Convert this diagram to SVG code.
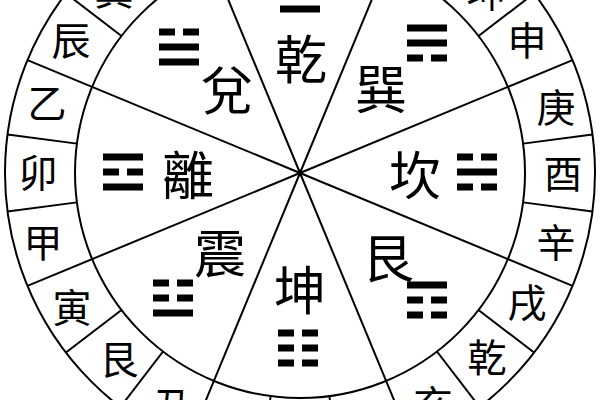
<svg xmlns="http://www.w3.org/2000/svg" width="600" height="400" viewBox="0 0 600 400">
<style>
.ln{stroke:#000;stroke-width:2;fill:none}
.big{font-family:"Noto Sans CJK TC","Noto Sans CJK SC",sans-serif;font-size:52px;text-anchor:middle;dominant-baseline:central;fill:#000}
.sm{font-family:"Noto Sans CJK TC","Noto Sans CJK SC",sans-serif;font-size:39px;text-anchor:middle;dominant-baseline:central;fill:#000}
.bar{fill:#000}
</style>
<defs>
<g id="yang"><rect class="bar" x="-20" y="-3.5" width="40" height="7"/></g>
<g id="yin"><rect class="bar" x="-20" y="-3.5" width="16" height="7"/><rect class="bar" x="4" y="-3.5" width="16" height="7"/></g>
</defs>
<rect x="0" y="0" width="600" height="400" fill="#fff"/>
<g id="connectors">
<circle class="ln" cx="300" cy="173" r="295"/>
<circle class="ln" cx="300" cy="173" r="225"/>
<line class="ln" x1="300" y1="173" x2="572.54" y2="60.11"/>
<line class="ln" x1="300" y1="173" x2="412.89" y2="-99.54"/>
<line class="ln" x1="300" y1="173" x2="187.11" y2="-99.54"/>
<line class="ln" x1="300" y1="173" x2="27.46" y2="60.11"/>
<line class="ln" x1="300" y1="173" x2="27.46" y2="285.89"/>
<line class="ln" x1="300" y1="173" x2="187.11" y2="445.54"/>
<line class="ln" x1="300" y1="173" x2="412.89" y2="445.54"/>
<line class="ln" x1="300" y1="173" x2="572.54" y2="285.89"/>
<line class="ln" x1="523.07" y1="143.63" x2="592.47" y2="134.49"/>
<line class="ln" x1="478.5" y1="36.03" x2="534.04" y2="-6.58"/>
<line class="ln" x1="436.97" y1="-5.5" x2="479.58" y2="-61.04"/>
<line class="ln" x1="329.37" y1="-50.07" x2="338.51" y2="-119.47"/>
<line class="ln" x1="270.63" y1="-50.07" x2="261.49" y2="-119.47"/>
<line class="ln" x1="163.03" y1="-5.5" x2="120.42" y2="-61.04"/>
<line class="ln" x1="121.5" y1="36.03" x2="65.96" y2="-6.58"/>
<line class="ln" x1="76.93" y1="143.63" x2="7.53" y2="134.49"/>
<line class="ln" x1="76.93" y1="202.37" x2="7.53" y2="211.51"/>
<line class="ln" x1="121.5" y1="309.97" x2="65.96" y2="352.58"/>
<line class="ln" x1="163.03" y1="351.5" x2="120.42" y2="407.04"/>
<line class="ln" x1="270.63" y1="396.07" x2="261.49" y2="465.47"/>
<line class="ln" x1="329.37" y1="396.07" x2="338.51" y2="465.47"/>
<line class="ln" x1="436.97" y1="351.5" x2="479.58" y2="407.04"/>
<line class="ln" x1="478.5" y1="309.97" x2="534.04" y2="352.58"/>
<line class="ln" x1="523.07" y1="202.37" x2="592.47" y2="211.51"/>
</g>
<g id="qian">
<use href="#yang" x="300" y="-21"/><use href="#yang" x="300" y="-6"/><use href="#yang" x="300" y="9"/>
<text class="big" x="301" y="56">乾</text>
</g>
<g id="dui">
<use href="#yin" x="179" y="32"/><use href="#yang" x="179" y="47"/><use href="#yang" x="179" y="62"/>
<text class="big" x="227" y="87">兌</text>
</g>
<g id="li">
<use href="#yang" x="123" y="157"/><use href="#yin" x="123" y="172"/><use href="#yang" x="123" y="187"/>
<text class="big" x="188" y="172">離</text>
</g>
<g id="zhen">
<use href="#yin" x="173" y="283"/><use href="#yin" x="173" y="298"/><use href="#yang" x="173" y="313"/>
<text class="big" x="220" y="250">震</text>
</g>
<g id="kun">
<use href="#yin" x="298" y="333"/><use href="#yin" x="298" y="348"/><use href="#yin" x="298" y="363"/>
<text class="big" x="300" y="287">坤</text>
</g>
<g id="gen">
<use href="#yang" x="427" y="285"/><use href="#yin" x="427" y="300"/><use href="#yin" x="427" y="315"/>
<text class="big" x="388" y="255">艮</text>
</g>
<g id="kan">
<use href="#yin" x="477" y="157"/><use href="#yang" x="477" y="172"/><use href="#yin" x="477" y="187"/>
<text class="big" x="415" y="172">坎</text>
</g>
<g id="xun">
<use href="#yang" x="427" y="28"/><use href="#yang" x="427" y="43"/><use href="#yin" x="427" y="58"/>
<text class="big" x="381" y="86">巽</text>
</g>
<g id="ring">
<text class="sm" x="114" y="-12">巽</text>
<text class="sm" x="71" y="38">辰</text>
<text class="sm" x="47" y="101">乙</text>
<text class="sm" x="38" y="170">卯</text>
<text class="sm" x="43" y="240">甲</text>
<text class="sm" x="72" y="305">寅</text>
<text class="sm" x="119" y="357">艮</text>
<text class="sm" x="172" y="403">丑</text>
<text class="sm" x="433" y="402">亥</text>
<text class="sm" x="487" y="355">乾</text>
<text class="sm" x="527" y="300">戌</text>
<text class="sm" x="556" y="240">辛</text>
<text class="sm" x="563" y="171">酉</text>
<text class="sm" x="556" y="105">庚</text>
<text class="sm" x="527" y="38">申</text>
<text class="sm" x="486" y="-10">坤</text>
</g>
</svg>
